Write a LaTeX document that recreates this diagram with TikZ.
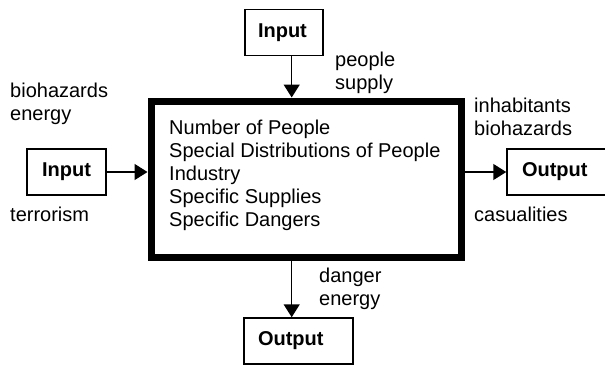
\documentclass[tikz,border=0pt]{standalone}
\usepackage{fontspec}
\setmainfont{Liberation Sans}
\usetikzlibrary{arrows.meta,positioning,calc}
\tikzset{
  txt/.style={font=\fontsize{20}{23}\selectfont},
  iob/.style={draw, line width=1.5pt, inner ysep=0pt, minimum height=46pt, font=\fontsize{20}{23}\selectfont\bfseries},
  sysblk/.style={draw, line width=7.5pt, minimum width=310pt, minimum height=156pt},
  lbl/.style={txt, inner sep=0pt, align=left},
  arr/.style={-{Triangle[length=13pt,width=16pt]}, line width=1.5pt},
}

\begin{document}
\begin{tikzpicture}[x=1pt, y=-1pt]
    \useasboundingbox (0,0) rectangle (605,367);
    \node[sysblk] (sys) at (306.25,179.25) {};
    \node[lbl, anchor=north west] (sysitems) at (169,119.4) {Number of People\\Special Distributions of People\\Industry\\Specific Supplies\\Specific Dangers};
    \node[iob, minimum width=78pt, text width=52pt, inner xsep=13pt, align=left] (inTop) at (284,32.5) {Input};
    \node[iob, minimum width=79pt, text width=53pt, inner xsep=13pt, align=center] (inLeft) at (66.5,172) {Input};
    \node[iob, minimum width=99pt, text width=69pt, inner xsep=15pt, align=left] (outRight) at (556.5,172) {Output};
    \node[iob, minimum width=109pt, text width=81pt, inner xsep=14pt, align=left] (outBottom) at (298.5,341) {Output};
    \coordinate (vx) at (291.7,0);
    % flows in and out of the system block
    \draw[arr] (inTop.south -| vx) -- (sys.north -| vx);
    \draw[arr] (inLeft.east) -- (inLeft.east -| sys.west);
    \draw[arr] (sys.east |- outRight.west) -- (outRight.west);
    \draw[arr] (sys.south -| vx) -- (outBottom.north -| vx);
    \node[lbl, anchor=north west] (lblTopIn) at (335,52) {people\\supply};
    \node[lbl, anchor=north west] (lblLeftIn) at (10,83) {biohazards\\energy};
    \node[lbl, anchor=base west] (lblLeftOut) at (10,221) {terrorism};
    \node[lbl, anchor=north west] (lblRightA) at (474,97.5) {inhabitants\\biohazards};
    \node[lbl, anchor=base west] (lblRightB) at (474,221) {casualities};
    \node[lbl, anchor=north west] (lblBottom) at (319,267.5) {danger\\energy};
  \end{tikzpicture}
\end{document}
